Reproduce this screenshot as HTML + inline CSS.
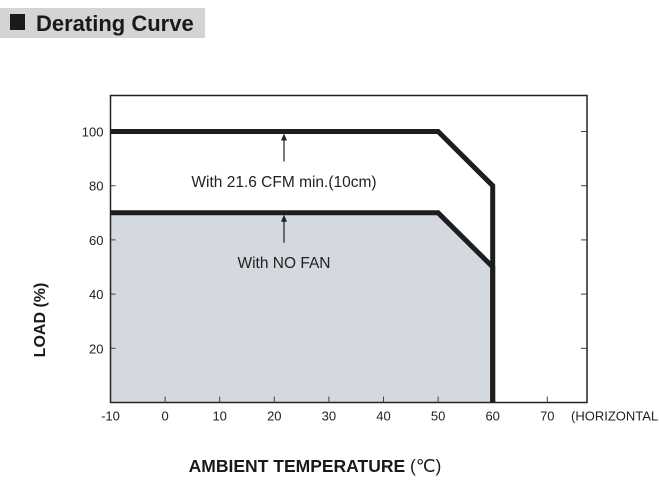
<!DOCTYPE html>
<html><head><meta charset="utf-8"><style>
body{margin:0;background:#fff;width:659px;height:488px;overflow:hidden;font-family:"Liberation Sans",sans-serif}
</style></head><body>
<svg width="659" height="488" viewBox="0 0 659 488" xmlns="http://www.w3.org/2000/svg">
<rect x="0" y="8" width="205" height="30" fill="#d4d4d4"/>
<rect x="10" y="14" width="15" height="16" fill="#1a1a1a"/>
<text x="36" y="31" font-size="22" font-weight="bold" fill="#1a1a1a">Derating Curve</text>
<g id="plot"></g>
<text transform="translate(45,320) rotate(-90)" font-size="16" font-weight="bold" text-anchor="middle" fill="#1a1a1a">LOAD (%)</text>
<text x="315" y="472" font-size="17.5" font-weight="bold" text-anchor="middle" fill="#1a1a1a">AMBIENT TEMPERATURE <tspan font-weight="normal">(℃)</tspan></text>
</svg>
<script>
const xTicks=[-10,0,10,20,30,40,50,60,70];
const yTicks=[20,40,60,80,100];
const fanTemps=[-10,50,60,60];
const fanLoads=[100,100,80,0];
const noFanTemps=[-10,50,60,60];
const noFanLoads=[70,70,50,0];
const NS="http://www.w3.org/2000/svg";
const L=110.5,R=587,T=95.5,B=402.5;
const sx=v=>L+(v+10)*5.46;
const sy=v=>B-v*2.71;
const g=document.getElementById('plot');
function mk(tag,attrs){const e=document.createElementNS(NS,tag);for(const k in attrs)e.setAttribute(k,attrs[k]);g.appendChild(e);return e;}
let d='M'+sx(noFanTemps[0])+','+sy(0);
noFanTemps.forEach((t,i)=>{d+=' L'+sx(t)+','+sy(noFanLoads[i]);});
d+=' Z';
let e=mk('path',{d:d,fill:'#d3d9df'});


e=mk('rect',{x:L,y:T,width:R-L,height:B-T,fill:'none',stroke:'#222','stroke-width':1.5});


xTicks.forEach(t=>{
  if(t>-10){let tk=mk('line',{x1:sx(t),x2:sx(t),y1:B,y2:B-6,stroke:'#444','stroke-width':1});
  
  }
  let tx=mk('text',{x:sx(t),y:B+18,'font-size':13,'text-anchor':'middle',fill:'#222'});
  tx.textContent=t;
  
  
});
e=mk('text',{x:571,y:B+18,'font-size':13,fill:'#222'});e.textContent='(HORIZONTAL';


yTicks.forEach(t=>{
  let tk=mk('line',{x1:L,x2:L+5,y1:sy(t),y2:sy(t),stroke:'#444','stroke-width':1});
  
  
  let tr=mk('line',{x1:R-6,x2:R,y1:sy(t),y2:sy(t),stroke:'#444','stroke-width':1});
  
  
  let tx=mk('text',{x:L-7,y:sy(t)+5,'font-size':13,'text-anchor':'end',fill:'#222'});
  tx.textContent=t;
  
  
});
function line(ts,ls,name){
  let p=ts.map((t,i)=>sx(t)+','+sy(ls[i])).join(' ');
  let el=mk('polyline',{points:p,fill:'none',stroke:'#1e1e1e','stroke-width':5,'stroke-linejoin':'miter'});
  
  
}
line(noFanTemps,noFanLoads,'no-fan-line');
line(fanTemps,fanLoads,'fan-line');
function ann(x,yTip,yText,label,name){
  let a=mk('line',{x1:x,x2:x,y1:yTip+6,y2:yTip+30,stroke:'#222','stroke-width':1.2});
  
  
  let h=mk('path',{d:`M${x-3},${yTip+9} L${x},${yTip+2} L${x+3},${yTip+9} Z`,fill:'#222'});
  
  
  let t=mk('text',{x:x,y:yText,'font-size':15.5,'text-anchor':'middle',fill:'#222'});
  t.textContent=label;
  
  
}
ann(284,sy(100),187,'With 21.6 CFM min.(10cm)','fan-annotation');
ann(284,sy(70),268,'With NO FAN','no-fan-annotation');
</script>
</body></html>
